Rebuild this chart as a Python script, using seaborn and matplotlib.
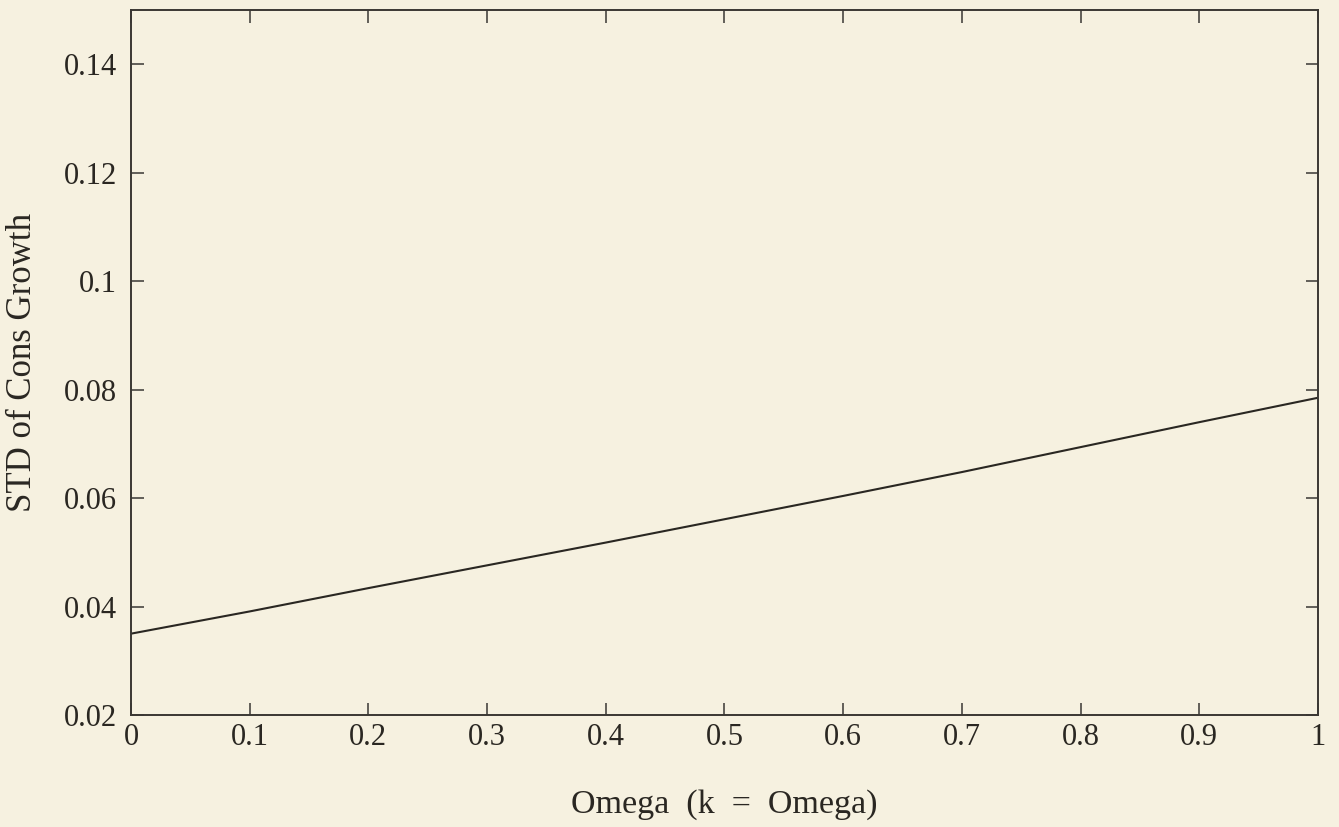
import matplotlib
matplotlib.use("Agg")
import matplotlib.pyplot as plt
import seaborn as sns
import pandas as pd

# Standard deviation of consumption growth as a function of omega (k = omega)
omega = [0.0, 0.1, 0.2, 0.3, 0.4, 0.5, 0.6, 0.7, 0.8, 0.9, 1.0]
std_cons_growth = [0.0350, 0.0391, 0.0434, 0.0476, 0.0518, 0.0561, 0.0604, 0.0648, 0.0694, 0.0740, 0.0785]

x_ticks = [0, 0.1, 0.2, 0.3, 0.4, 0.5, 0.6, 0.7, 0.8, 0.9, 1]
x_tick_labels = ["0", "0.1", "0.2", "0.3", "0.4", "0.5", "0.6", "0.7", "0.8", "0.9", "1"]
y_ticks = [0.02, 0.04, 0.06, 0.08, 0.10, 0.12, 0.14]
y_tick_labels = ["0.02", "0.04", "0.06", "0.08", "0.1", "0.12", "0.14"]

df = pd.DataFrame({"omega": omega, "std": std_cons_growth})

bg = "#F6F1E0"
ink = "#2a2722"
sns.set_theme(style="ticks")
plt.rcParams["font.family"] = ["Liberation Serif", "DejaVu Serif"]

fig = plt.figure(figsize=(13.39, 8.27), dpi=100, facecolor=bg)
ax = fig.add_axes([0.0978, 0.1354, 0.8865, 0.8525])
ax.set_facecolor(bg)

sns.lineplot(data=df, x="omega", y="std", ax=ax, color=ink, linewidth=1.5)

ax.set_xlim(0, 1)
ax.set_ylim(0.02, 0.15)
ax.set_xticks(x_ticks)
ax.set_xticklabels(x_tick_labels)
ax.set_yticks(y_ticks)
ax.set_yticklabels(y_tick_labels)

ax.tick_params(direction="in", length=9, width=1.1, colors="#3a3733",
               labelsize=22, top=True, right=True)
ax.tick_params(axis="x", labelcolor=ink, pad=6)
ax.tick_params(axis="y", labelcolor=ink, pad=10)
for side in ["top", "bottom", "left", "right"]:
    ax.spines[side].set_visible(True)
    ax.spines[side].set_color("#3a3733")
    ax.spines[side].set_linewidth(1.4)

ax.set_xlabel("Omega  (k  =  Omega)", fontsize=24.5, color=ink)
ax.set_ylabel("STD of Cons Growth", fontsize=25, color=ink)
ax.xaxis.set_label_coords(0.5, -0.105)
ax.yaxis.set_label_coords(-0.0775, 0.5)

fig.savefig("out.png", dpi=100, facecolor=bg)
